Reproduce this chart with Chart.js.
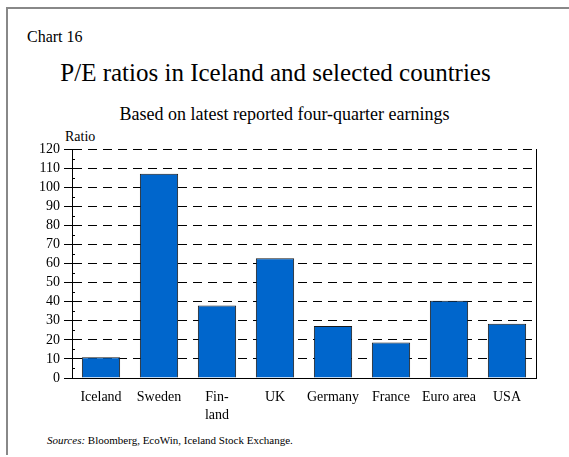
<!DOCTYPE html>
<html>
<head>
<meta charset="utf-8">
<script src="https://cdn.jsdelivr.net/npm/chart.js@4"></script>
<style>
  body { margin: 0; width: 569px; height: 457px; background: #fff; position: relative; overflow: hidden;
         font-family: "Liberation Serif", "Times New Roman", serif; color: #000; }
  .frame { position: absolute; left: 6px; top: 7px; width: 570px; height: 446px;
           border-top: 2px solid #888; border-left: 2px solid #888; }
  .txt { position: absolute; white-space: nowrap; line-height: 1; }
  #chartNo { left: 27px; top: 29px; font-size: 16px; }
  #title { left: 0; width: 551px; text-align: center; top: 60px; font-size: 25px; }
  #subtitle { left: 0; width: 569px; text-align: center; top: 105px; font-size: 18px; }
  #unit { left: 65px; top: 130px; font-size: 14px; }
  #sources { left: 47px; top: 435px; font-size: 11px; }
  #wrap { position: absolute; left: 0; top: 130px; width: 569px; height: 300px; }
</style>
</head>
<body>
<div class="frame"></div>
<div class="txt" id="chartNo">Chart 16</div>
<div class="txt" id="title">P/E ratios in Iceland and selected countries</div>
<div class="txt" id="subtitle">Based on latest reported four-quarter earnings</div>
<div class="txt" id="unit">Ratio</div>
<div class="txt" id="sources"><i>Sources:</i> Bloomberg, EcoWin, Iceland Stock Exchange.</div>
<div id="wrap"><canvas id="peChart"></canvas></div>

<script>
// Chart data
const countries = ['Iceland', 'Sweden', ['Fin-', 'land'], 'UK', 'Germany', 'France', 'Euro area', 'USA'];
const peRatios = [10.9, 107, 38, 62.7, 27.2, 18.6, 40.5, 28.4];
const yMin = 0;
const yMax = 120;
const yStep = 10;

// Right frame line and minor ticks on the value axis
const frameLines = {
    id: 'frameLines',
    afterDraw(chart) {
        const ctx = chart.ctx;
        const area = chart.chartArea;
        const y = chart.scales.y;
        ctx.save();
        ctx.strokeStyle = '#000';
        ctx.lineWidth = 1;
        ctx.beginPath();
        ctx.moveTo(area.right + 0.5, area.top);
        ctx.lineTo(area.right + 0.5, area.bottom);
        for (let v = yMin + yStep / 2; v < yMax; v += yStep) {
            const py = Math.round(y.getPixelForValue(v)) + 0.5;
            ctx.moveTo(area.left, py);
            ctx.lineTo(area.left + 3, py);
        }
        ctx.stroke();
        ctx.restore();
    }
};

const ctx = document.getElementById('peChart');
new Chart(ctx, {
    type: 'bar',
    data: {
        labels: countries,
        datasets: [{
            data: peRatios,
            backgroundColor: '#0066CC',
            borderColor: '#1a1a1a',
            borderWidth: 1,
            categoryPercentage: 1,
            barPercentage: 0.66
        }]
    },
    options: {
        responsive: true,
        maintainAspectRatio: false,
        animation: false,
        layout: { padding: { top: 19, right: 33, left: 0, bottom: 0 } },
        plugins: {
            legend: { display: false },
            tooltip: { enabled: false }
        },
        scales: {
            x: {
                grid: { display: false, drawTicks: false },
                border: { display: true, color: '#000', width: 1 },
                ticks: {
                    color: '#000',
                    padding: 10,
                    maxRotation: 0,
                    autoSkip: false,
                    font: { family: 'Liberation Serif', size: 14, lineHeight: 1.3 }
                },
                afterFit(scale) { scale.height = 52; }
            },
            y: {
                min: yMin,
                max: yMax,
                grid: {
                    color: '#000',
                    lineWidth: 1,
                    tickLength: 8,
                    tickColor: '#000',
                    tickBorderDash: []
                },
                border: { display: true, color: '#000', width: 1, dash: [9, 6] },
                ticks: {
                    stepSize: yStep,
                    autoSkip: false,
                    color: '#000',
                    padding: 4,
                    font: { family: 'Liberation Serif', size: 14 }
                },
                afterFit(scale) { scale.width = 72; }
            }
        }
    },
    plugins: [frameLines]
});
</script>
</body>
</html>
